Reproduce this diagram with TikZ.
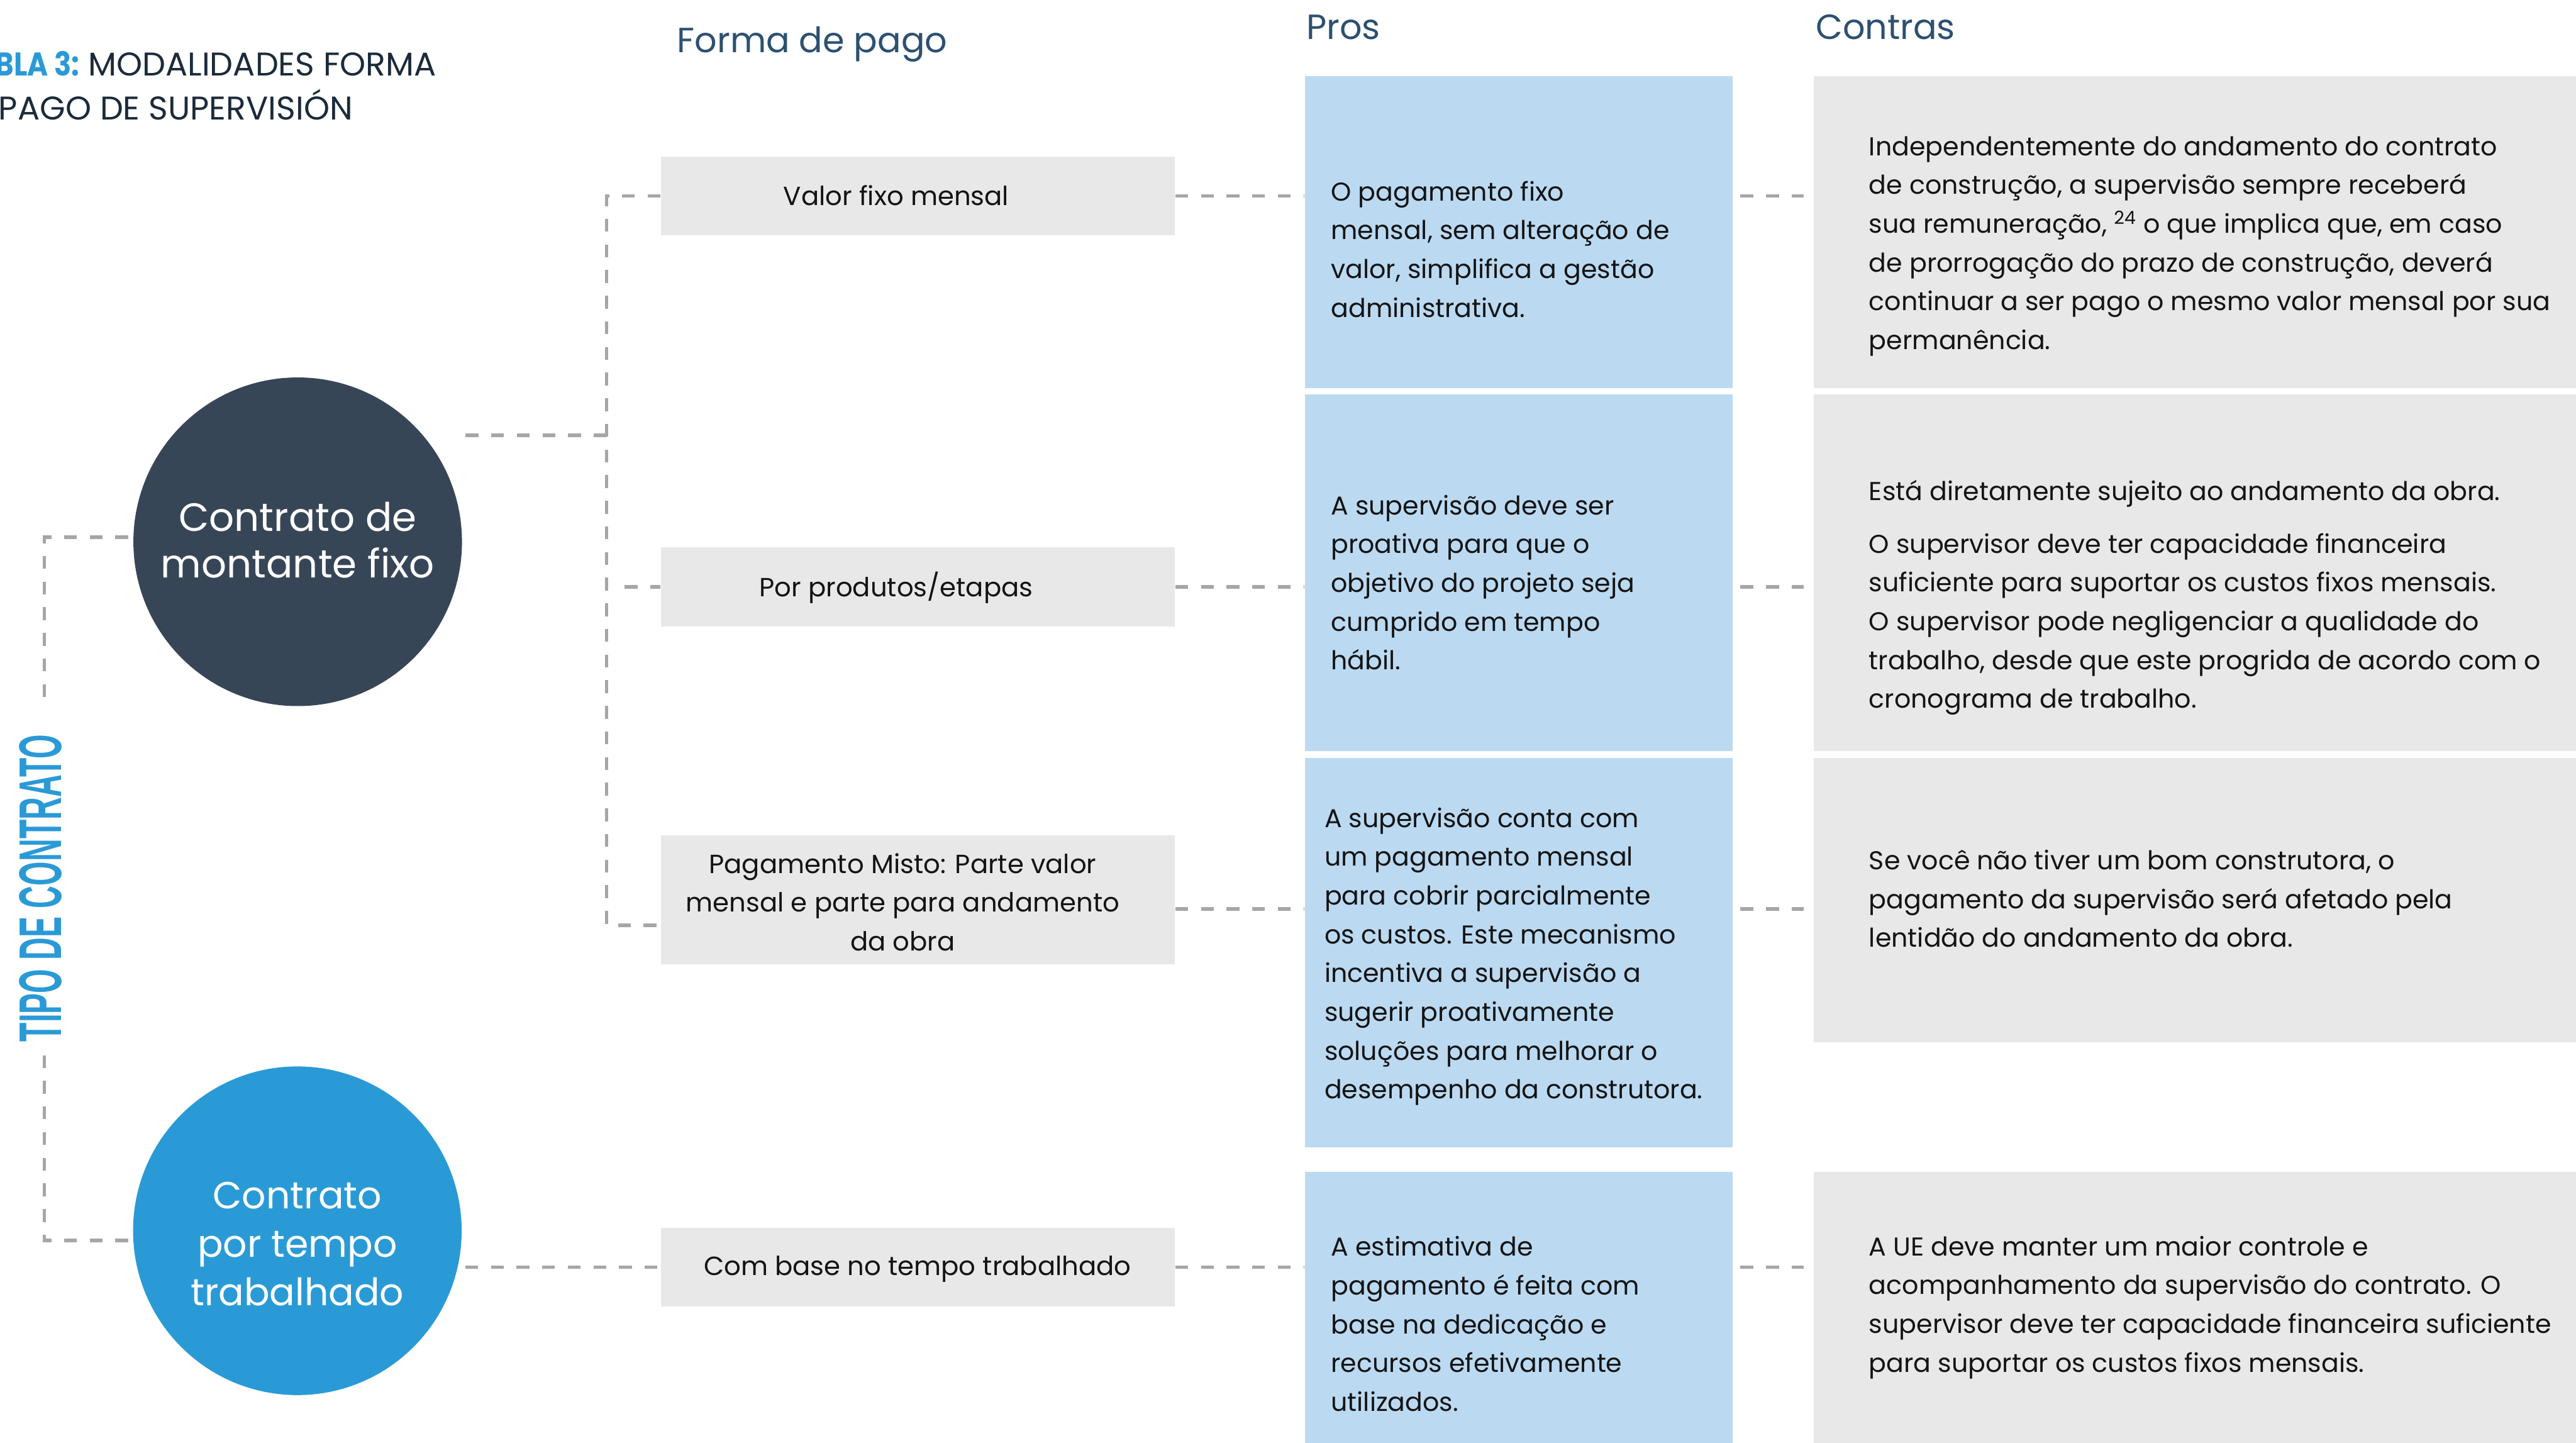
\documentclass[tikz,border=0pt]{standalone}
\usepackage{fontspec}
\setmainfont{Poppins}
\newfontfamily\condfont{Liberation Sans}

\definecolor{darkc}{RGB}{55,70,87}
\definecolor{tblue}{RGB}{42,154,214}
\definecolor{problue}{RGB}{187,218,242}
\definecolor{boxgray}{RGB}{232,232,232}
\definecolor{dashgray}{RGB}{167,165,166}
\definecolor{headc}{RGB}{44,80,112}
\definecolor{titlec}{RGB}{27,43,59}
\definecolor{textc}{RGB}{20,20,20}

\newcommand\bodyfont{\fontsize{15.75}{23.6}\selectfont}
\newcommand\formfont{\fontsize{16}{23.6}\selectfont}
\newcommand\headfont{\fontsize{21.3}{26}\selectfont}
\newcommand\titlefont{\fontsize{20}{27}\selectfont}

\begin{document}
\begin{tikzpicture}[x=1pt,y=-1pt,
  conn/.style={draw=dashgray, line width=2.2pt, dash pattern=on 7.8pt off 7.8pt},
  formbox/.style={fill=boxgray, draw=none, inner sep=0pt, anchor=north west,
    minimum width=313pt},
  probox/.style={fill=problue, draw=none, inner sep=0pt, anchor=north west,
    minimum width=260.5pt},
  conbox/.style={fill=boxgray, draw=none, inner sep=0pt, anchor=north west,
    minimum width=475pt},
  bodytxt/.style={anchor=north west, inner sep=0pt, align=left, text=textc,
    font=\bodyfont, execute at begin node=\strut},
  boxtxt/.style={inner sep=0pt, align=center, text=textc, font=\formfont},
  circtxt/.style={anchor=north, inner sep=0pt, align=center, text=white,
    execute at begin node=\strut},
  headtxt/.style={anchor=base west, inner sep=0pt, text=headc, font=\headfont},
  titletxt/.style={anchor=base west, inner sep=0pt, text=titlec, font=\titlefont},
  bubble/.style={circle, draw=none, inner sep=0pt, minimum size=200pt}]

\useasboundingbox (0,0) rectangle (1568,878);

% title and column headings
\node[titletxt] (title1) at (-3,46) {\scalebox{0.86}[1]{\bfseries\color{tblue}BLA 3:} MODALIDADES FORMA};
\node[titletxt] (title2) at (-1,73) {PAGO DE SUPERVISIÓN};
\node[headtxt] (hforma) at (412,31.8) {Forma de pago};
\node[headtxt] (hpros) at (795,24) {Pros};
\node[headtxt] (hcontras) at (1105,24) {Contras};

% contract types
\node[bubble, fill=darkc] (c1) at (181.2,329.7) {};
\node[circtxt, font=\fontsize{24}{28.5}\selectfont] (c1t) at (181.2,305.3) {Contrato de\\montante fixo};
\node[bubble, fill=tblue] (c2) at (181,749) {};
\node[circtxt, font=\fontsize{23}{29.5}\selectfont] (c2t) at (181,719) {Contrato\\por tempo\\trabalhado};
\node[rotate=90, inner sep=0pt, text=tblue] (tipo) at (24.8,540.5)
  {\resizebox{187pt}{25.6pt}{\condfont\bfseries TIPO DE CONTRATO}};

% payment forms
\node[formbox, minimum height=48pt] (b1) at (402,95) {};
\node[formbox, minimum height=48pt] (b2) at (402,333) {};
\node[formbox, minimum height=78.3pt] (b3) at (402,508.3) {};
\node[formbox, minimum height=48pt] (b4) at (402,747) {};
\node[boxtxt, anchor=base] (b1t) at (545.5,125) {Valor fixo mensal};
\node[boxtxt, anchor=base] (b2t) at (545.5,363) {Por produtos/etapas};
\node[boxtxt, anchor=north, execute at begin node=\strut] (b3t) at (549.5,519)
  {Pagamento Misto: Parte valor\\mensal e parte para andamento\\da obra};
\node[boxtxt, anchor=base] (b4t) at (558.5,776) {Com base no tempo trabalhado};

% advantages
\node[probox, minimum height=190pt] (p1) at (794,46) {};
\node[probox, minimum height=217pt] (p2) at (794,240) {};
\node[probox, minimum height=237pt] (p3) at (794,461) {};
\node[probox, minimum height=175pt] (p4) at (794,713) {};
\node[bodytxt] (p1t) at (810,110) {O pagamento fixo\\mensal, sem alteração de\\valor, simplifica a gestão\\administrativa.};
\node[bodytxt] (p2t) at (810,301) {A supervisão deve ser\\proativa para que o\\objetivo do projeto seja\\cumprido em tempo\\hábil.};
\node[bodytxt] (p3t) at (806,491.3) {A supervisão conta com\\um pagamento mensal\\para cobrir parcialmente\\os custos. Este mecanismo\\incentiva a supervisão a\\sugerir proativamente\\soluções para melhorar o\\desempenho da construtora.};
\node[bodytxt] (p4t) at (810,752.2) {A estimativa de\\pagamento é feita com\\base na dedicação e\\recursos efetivamente\\utilizados.};

% drawbacks
\node[conbox, minimum height=190pt] (k1) at (1104,46) {};
\node[conbox, minimum height=217pt] (k2) at (1104,240) {};
\node[conbox, minimum height=173pt] (k3) at (1104,461) {};
\node[conbox, minimum height=175pt] (k4) at (1104,713) {};
\node[bodytxt] (k1t) at (1137.5,82.8) {Independentemente do andamento do contrato\\de construção, a supervisão sempre receberá\\sua remuneração, \textsuperscript{24} o que implica que, em caso\\de prorrogação do prazo de construção, deverá\\continuar a ser pago o mesmo valor mensal por sua\\permanência.};
\node[bodytxt] (k2t) at (1137.5,292) {Está diretamente sujeito ao andamento da obra.\\[8.4pt]O supervisor deve ter capacidade financeira\\suficiente para suportar os custos fixos mensais.\\O supervisor pode negligenciar a qualidade do\\trabalho, desde que este progrida de acordo com o\\cronograma de trabalho.};
\node[bodytxt] (k3t) at (1137.5,517) {Se você não tiver um bom construtora, o\\pagamento da supervisão será afetado pela\\lentidão do andamento da obra.};
\node[bodytxt] (k4t) at (1137.5,752) {A UE deve manter um maior controle e\\acompanhamento da supervisão do contrato. O\\supervisor deve ter capacidade financeira suficiente\\para suportar os custos fixos mensais.};

% contract-type bracket
\coordinate (bk1) at (27,327);
\coordinate (bk2) at (27,755);
\draw[conn, shorten >=17pt] ([xshift=-3pt]c1.west |- bk1) -- (bk1) -- (bk1 |- tipo.east);
\draw[conn, shorten <=8pt] (bk2 |- tipo.west) -- (bk2) -- ([xshift=-1pt]c2.west |- bk2);

% contract types to payment forms
\coordinate (fork) at (369.2,265);
\draw[conn] ([xshift=2pt]c1.east |- fork) -- (fork);
\draw[conn] (b1.west) -| (fork) |- ([yshift=-15.35pt]b3.west);
\draw[conn, shorten <=11pt] (fork |- b2.west) -- (b2.west);
\draw[conn] ([xshift=2pt]c2.east |- b4.west) -- (b4.west);

% payment forms to advantages
\draw[conn] (b1.east) -- (b1.east -| p1.west);
\draw[conn] (b2.east) -- (b2.east -| p2.west);
\draw[conn] ([yshift=-5.5pt]b3.east) -- ([yshift=-5.5pt]b3.east -| p3.west);
\draw[conn] (b4.east) -- (b4.east -| p4.west);

% advantages to drawbacks
\draw[conn, shorten <=4.5pt, shorten >=6pt] (b1.east -| p1.east) -- (b1.east -| k1.west);
\draw[conn, shorten <=4.5pt, shorten >=6pt] (b2.east -| p2.east) -- (b2.east -| k2.west);
\draw[conn, shorten <=4.5pt, shorten >=6pt] ([yshift=-5.5pt]b3.east -| p3.east) -- ([yshift=-5.5pt]b3.east -| k3.west);
\draw[conn, shorten <=4.5pt, shorten >=6pt] (b4.east -| p4.east) -- (b4.east -| k4.west);
\end{tikzpicture}
\end{document}
